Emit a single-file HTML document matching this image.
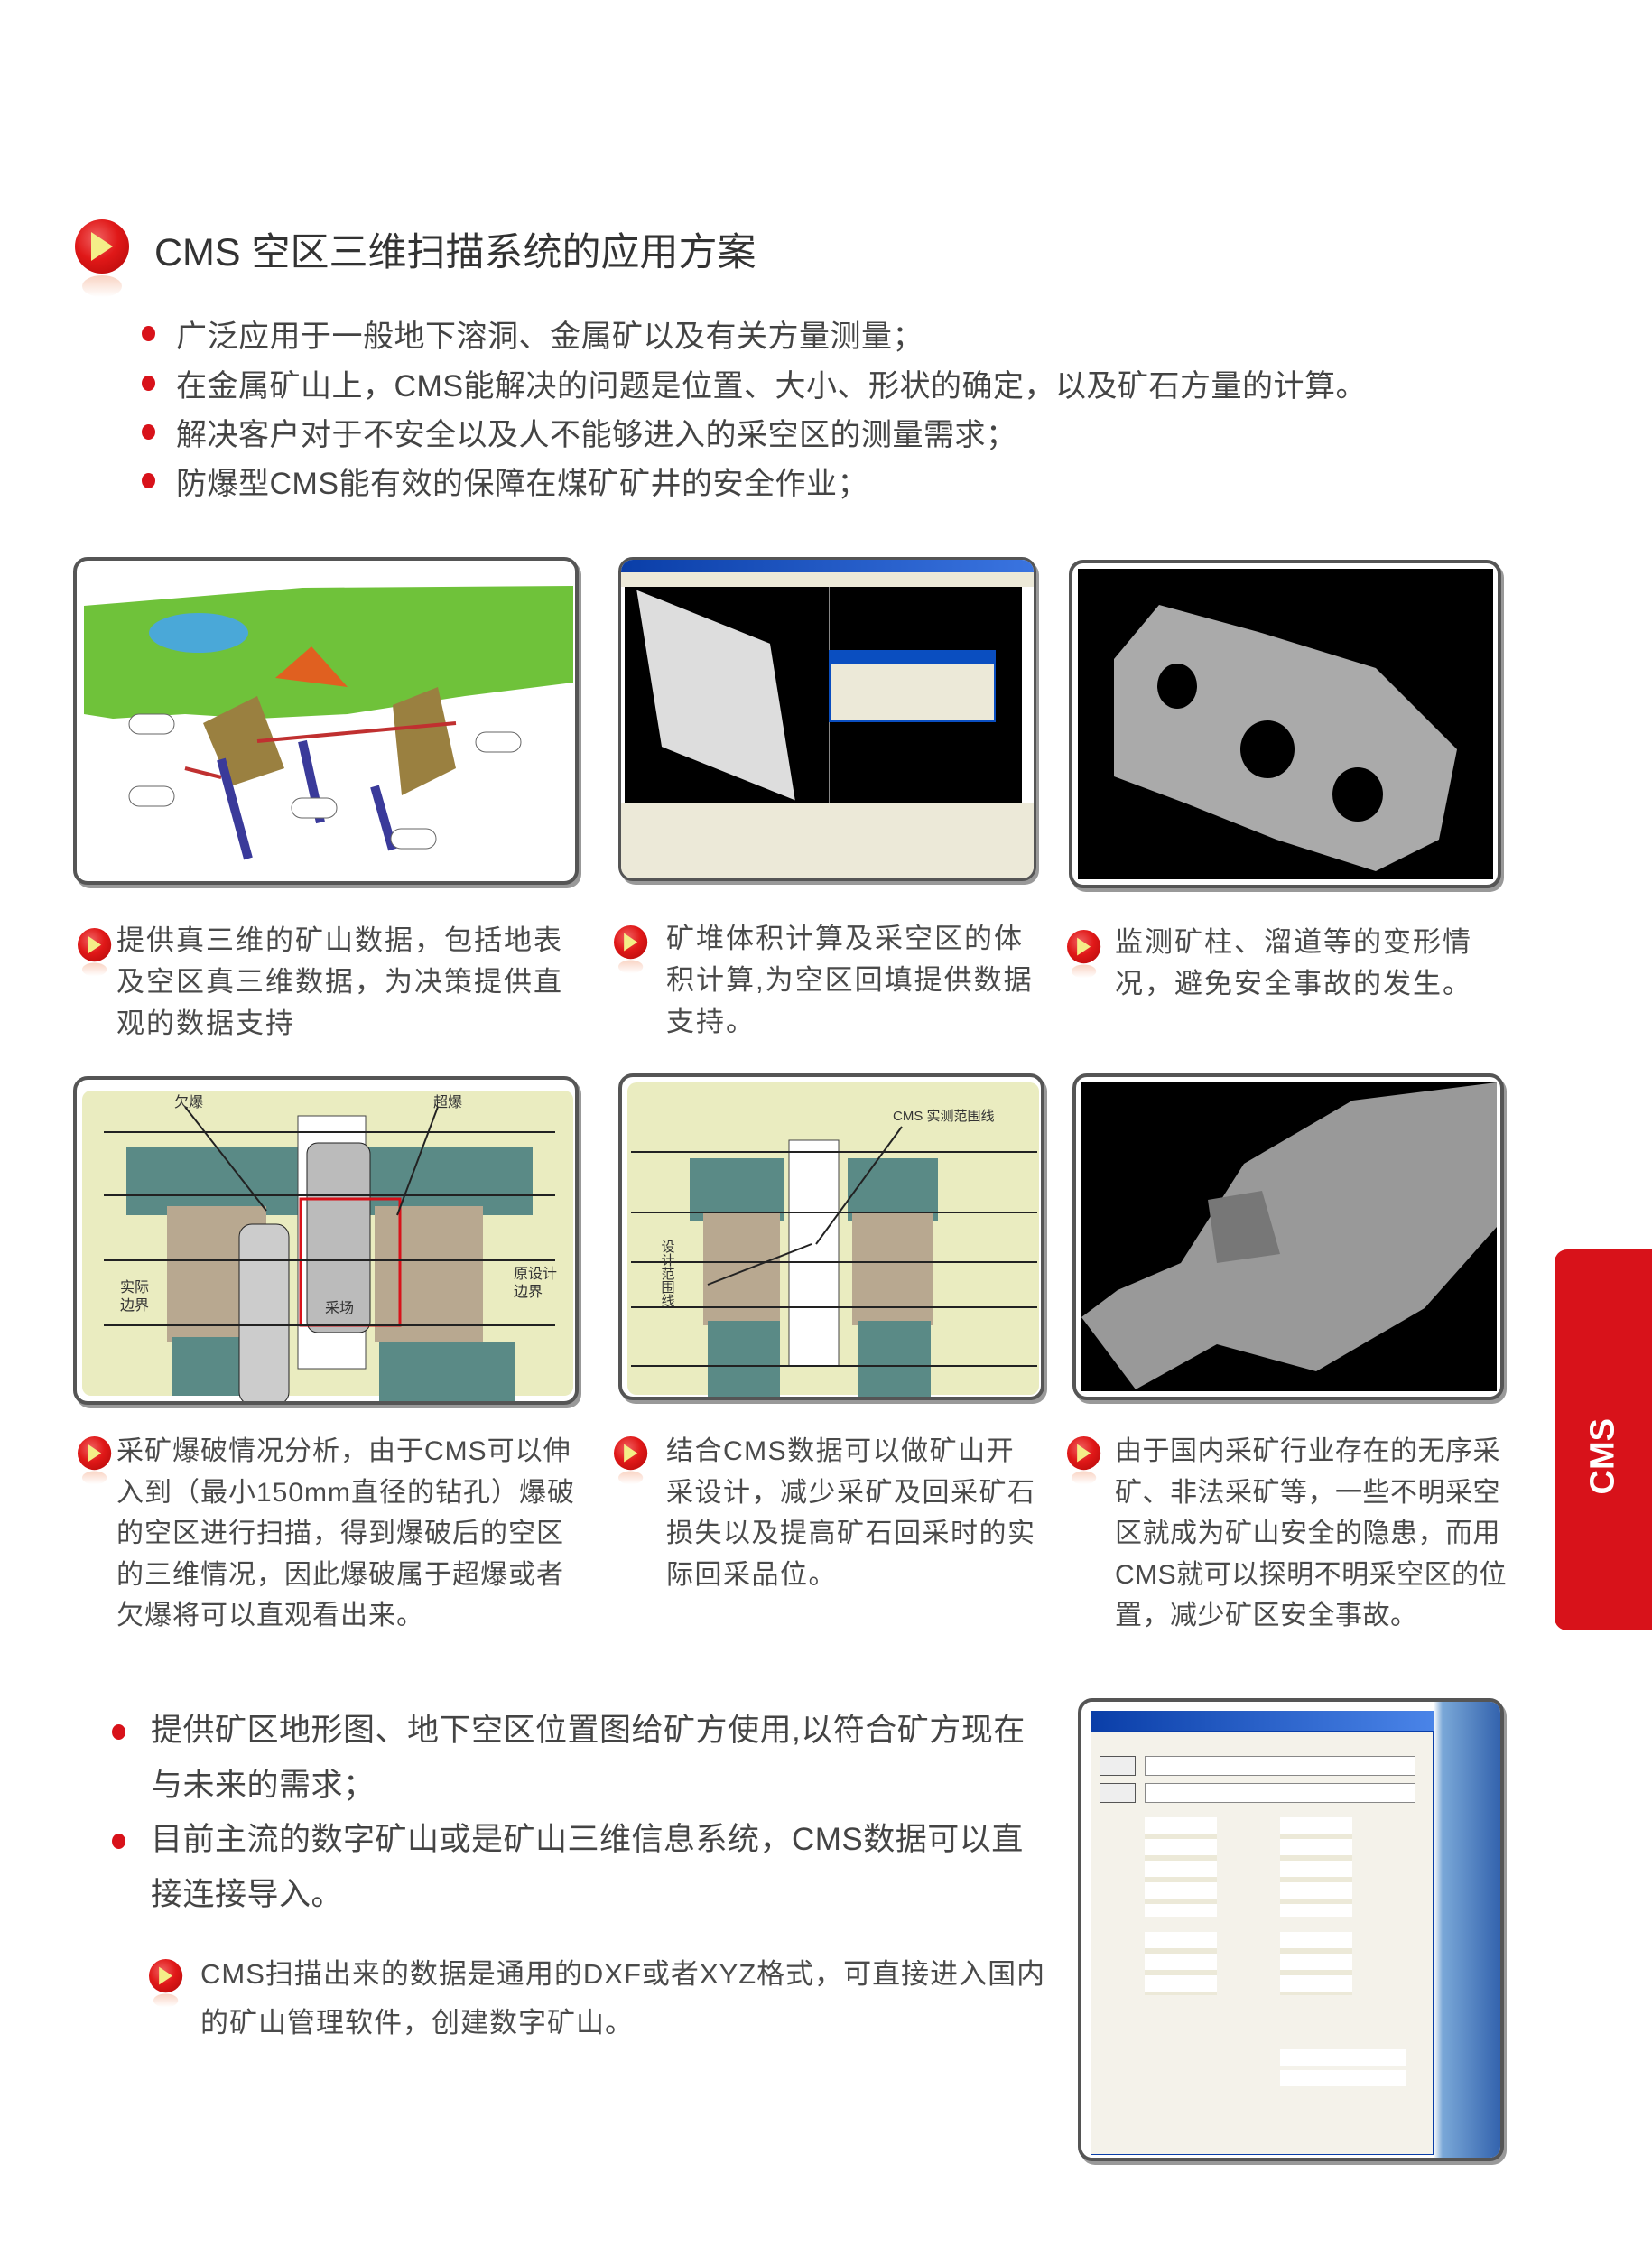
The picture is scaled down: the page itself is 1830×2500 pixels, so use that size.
<!DOCTYPE html>
<html><head><meta charset="utf-8">
<style>
*{margin:0;padding:0;box-sizing:border-box}
body{width:1830px;height:2500px;background:#fff;position:relative;overflow:hidden;font-family:"Liberation Sans","Noto Sans CJK SC",sans-serif;color:#4a4a4a}
.a{position:absolute}
.ico{position:absolute;width:60px;height:60px;border-radius:50%;background:radial-gradient(circle at 40% 35%,#f06060 0%,#e01818 45%,#b00808 100%)}
.ico::before{content:"";position:absolute;left:18px;top:14px;width:0;height:0;border-left:24px solid #f4ee88;border-top:16px solid transparent;border-bottom:16px solid transparent}
.ico::after{content:"";position:absolute;left:8px;top:62px;width:44px;height:24px;border-radius:50%;background:linear-gradient(#f6c0a8,#fff);opacity:.7}
.sico{transform:scale(.62);transform-origin:0 0}
.dot{position:absolute;width:15px;height:17px;border-radius:50%;background:#d8121a}
.t{position:absolute;white-space:nowrap}
.bl{font-size:34px;letter-spacing:.5px;color:#444}
.cap{font-size:31px;letter-spacing:2px;line-height:46px;color:#4a4a4a}
.cap2{font-size:30px;letter-spacing:1px;line-height:45.5px;color:#4a4a4a}
.panel{position:absolute;border:4px solid #555;border-radius:16px;background:#fff;box-shadow:3px 4px 0 #999;overflow:hidden}
</style></head><body>

<div class="ico" style="left:83px;top:243px"></div>
<div class="t" style="left:171px;top:245px;font-size:43px;color:#333">CMS 空区三维扫描系统的应用方案</div>

<div class="dot" style="left:157px;top:361px"></div>
<div class="t bl" style="left:195px;top:345px">广泛应用于一般地下溶洞、金属矿以及有关方量测量；</div>
<div class="dot" style="left:157px;top:416px"></div>
<div class="t bl" style="left:195px;top:400px">在金属矿山上，CMS能解决的问题是位置、大小、形状的确定，以及矿石方量的计算。</div>
<div class="dot" style="left:157px;top:470px"></div>
<div class="t bl" style="left:195px;top:454px">解决客户对于不安全以及人不能够进入的采空区的测量需求；</div>
<div class="dot" style="left:157px;top:524px"></div>
<div class="t bl" style="left:195px;top:508px">防爆型CMS能有效的保障在煤矿矿井的安全作业；</div>

<!-- Row 1 panels -->
<div class="panel" style="left:81px;top:617px;width:560px;height:363px">
<svg width="560" height="363" viewBox="0 0 560 363">
<polygon points="8,50 250,30 550,28 550,135 430,150 300,170 200,175 120,170 40,175 8,170" fill="#6fc23a"/>
<ellipse cx="135" cy="80" rx="55" ry="22" fill="#4aa8d8"/>
<path d="M220,130 L260,95 L300,140 Z" fill="#e06020"/>
<path d="M140,180 L200,150 L230,230 L170,250 Z" fill="#9a8040"/>
<path d="M350,160 L400,140 L420,230 L360,260 Z" fill="#9a8040"/>
<path d="M160,220 L190,330 M330,250 L350,320 M250,200 L270,290" stroke="#3a3a9a" stroke-width="10"/>
<path d="M120,230 L160,240 M200,200 L420,180" stroke="#c03030" stroke-width="4"/>
<g fill="#fff" stroke="#666"><rect x="58" y="170" width="50" height="22" rx="11"/><rect x="58" y="250" width="50" height="22" rx="11"/><rect x="238" y="263" width="50" height="22" rx="11"/><rect x="442" y="190" width="50" height="22" rx="11"/><rect x="348" y="297" width="50" height="22" rx="11"/></g>
</svg></div>

<div class="panel" style="left:685px;top:617px;width:463px;height:359px;border-width:3px">
<div class="a" style="left:0;top:0;width:100%;height:14px;background:linear-gradient(90deg,#0a3ea8,#3a74e0)"></div>
<div class="a" style="left:0;top:14px;width:100%;height:16px;background:#ece9d8"></div>
<div class="a" style="left:4px;top:30px;width:440px;height:240px;background:#000"></div>
<div class="a" style="left:230px;top:30px;width:1px;height:240px;background:#888"></div>
<div class="a" style="left:30px;top:70px;width:150px;height:160px;background:#ddd;transform:skewY(30deg) rotate(-10deg)"></div>
<div class="a" style="left:230px;top:100px;width:185px;height:80px;background:#ece9d8;border:2px solid #0a4ec0"></div>
<div class="a" style="left:230px;top:100px;width:185px;height:16px;background:#0a4ec0"></div>
<div class="a" style="left:0;top:270px;width:100%;height:95px;background:#ece9d8"></div>
</div>

<div class="panel" style="left:1184px;top:620px;width:479px;height:364px">
<div class="a" style="left:6px;top:6px;width:460px;height:344px;background:#000"></div>
<svg class="a" style="left:6px;top:6px" width="460" height="344"><path d="M40,100 L90,40 L200,70 L330,110 L420,200 L400,300 L330,335 L220,300 L120,260 L40,230 Z" fill="#aaa"/><ellipse cx="110" cy="130" rx="22" ry="25" fill="#000"/><ellipse cx="210" cy="200" rx="30" ry="32" fill="#000"/><ellipse cx="310" cy="250" rx="28" ry="30" fill="#000"/></svg>
</div>

<!-- Row 1 captions -->
<div class="ico sico" style="left:86px;top:1028px"></div>
<div class="t cap" style="left:129px;top:1019px">提供真三维的矿山数据，包括地表<br>及空区真三维数据，为决策提供直<br>观的数据支持</div>
<div class="ico sico" style="left:680px;top:1025px"></div>
<div class="t cap" style="left:738px;top:1017px">矿堆体积计算及采空区的体<br>积计算,为空区回填提供数据<br>支持。</div>
<div class="ico sico" style="left:1182px;top:1030px"></div>
<div class="t cap" style="left:1235px;top:1021px">监测矿柱、溜道等的变形情<br>况，避免安全事故的发生。</div>

<!-- Row 2 panels -->
<div class="panel" style="left:81px;top:1192px;width:560px;height:364px">
<div class="a" style="left:6px;top:12px;width:544px;height:338px;background:#eaecc0;border-radius:10px"></div>
<svg class="a" style="left:0;top:0" width="560" height="364">
<rect x="55" y="75" width="220" height="75" fill="#5a8a86"/><rect x="315" y="75" width="190" height="75" fill="#5a8a86"/>
<rect x="100" y="140" width="110" height="150" fill="#b8a890"/><rect x="330" y="140" width="120" height="150" fill="#b8a890"/>
<rect x="105" y="285" width="130" height="65" fill="#5a8a86"/><rect x="335" y="290" width="150" height="70" fill="#5a8a86"/>
<rect x="245" y="40" width="75" height="280" fill="#fff" stroke="#444"/>
<rect x="180" y="160" width="55" height="200" rx="14" fill="#ccc" stroke="#222"/>
<rect x="255" y="70" width="70" height="210" rx="12" fill="#bbb" stroke="#222"/>
<rect x="248" y="132" width="110" height="140" fill="none" stroke="#d8121a" stroke-width="3"/>
<g stroke="#222" stroke-width="2"><line x1="30" y1="58" x2="530" y2="58"/><line x1="30" y1="128" x2="530" y2="128"/><line x1="30" y1="200" x2="530" y2="200"/><line x1="30" y1="272" x2="530" y2="272"/><line x1="120" y1="30" x2="210" y2="145"/><line x1="400" y1="30" x2="355" y2="150"/></g>
<g font-size="16" fill="#333"><text x="108" y="30">欠爆</text><text x="395" y="30">超爆</text><text x="48" y="235">实际</text><text x="48" y="255">边界</text><text x="484" y="220">原设计</text><text x="484" y="240">边界</text><text x="275" y="258">采场</text></g>
</svg></div>

<div class="panel" style="left:685px;top:1189px;width:472px;height:362px">
<div class="a" style="left:6px;top:6px;width:456px;height:346px;background:#eaecc0;border-radius:10px"></div>
<svg class="a" style="left:0;top:0" width="472" height="362">
<rect x="75" y="90" width="105" height="70" fill="#5a8a86"/><rect x="250" y="90" width="100" height="70" fill="#5a8a86"/>
<rect x="90" y="150" width="85" height="125" fill="#b8a890"/><rect x="255" y="150" width="90" height="125" fill="#b8a890"/>
<rect x="95" y="270" width="80" height="85" fill="#5a8a86"/><rect x="262" y="270" width="80" height="85" fill="#5a8a86"/>
<rect x="185" y="70" width="55" height="250" fill="#fff" stroke="#444"/>
<g stroke="#222" stroke-width="2"><line x1="10" y1="83" x2="460" y2="83"/><line x1="10" y1="150" x2="460" y2="150"/><line x1="10" y1="205" x2="460" y2="205"/><line x1="10" y1="255" x2="460" y2="255"/><line x1="10" y1="320" x2="460" y2="320"/><line x1="310" y1="55" x2="215" y2="185"/><line x1="210" y1="185" x2="95" y2="230"/></g>
<g font-size="15" fill="#333"><text x="300" y="48">CMS 实测范围线</text><text x="50" y="180" writing-mode="tb">设计范围线</text></g>
</svg></div>

<div class="panel" style="left:1188px;top:1189px;width:478px;height:362px">
<div class="a" style="left:6px;top:6px;width:460px;height:342px;background:#000"></div>
<svg class="a" style="left:6px;top:6px" width="460" height="342"><path d="M460,0 L300,20 L180,90 L110,200 L40,230 L0,260 L60,340 L150,290 L260,320 L380,250 L460,160 Z" fill="#999"/><path d="M140,130 L200,120 L220,190 L150,200 Z" fill="#777"/></svg>
</div>

<!-- Row 2 captions -->
<div class="ico sico" style="left:86px;top:1591px"></div>
<div class="t cap2" style="left:129px;top:1585px">采矿爆破情况分析，由于CMS可以伸<br>入到（最小150mm直径的钻孔）爆破<br>的空区进行扫描，得到爆破后的空区<br>的三维情况，因此爆破属于超爆或者<br>欠爆将可以直观看出来。</div>
<div class="ico sico" style="left:680px;top:1591px"></div>
<div class="t cap2" style="left:738px;top:1585px;letter-spacing:1.5px">结合CMS数据可以做矿山开<br>采设计，减少采矿及回采矿石<br>损失以及提高矿石回采时的实<br>际回采品位。</div>
<div class="ico sico" style="left:1182px;top:1591px"></div>
<div class="t cap2" style="left:1235px;top:1585px;letter-spacing:.5px">由于国内采矿行业存在的无序采<br>矿、非法采矿等，一些不明采空<br>区就成为矿山安全的隐患，而用<br>CMS就可以探明不明采空区的位<br>置，减少矿区安全事故。</div>

<!-- red tab -->
<div class="a" style="left:1722px;top:1384px;width:108px;height:422px;background:#d8121a;border-radius:14px 0 0 14px"></div>
<div class="t" style="left:1736px;top:1594px;width:80px;transform:rotate(-90deg);transform-origin:center;color:#fff;font-weight:bold;font-size:38px;text-align:center">CMS</div>

<!-- bottom bullets -->
<div class="dot" style="left:124px;top:1910px"></div>
<div class="t bl" style="left:167px;top:1886px;font-size:35px;line-height:61px">提供矿区地形图、地下空区位置图给矿方使用,以符合矿方现在<br>与未来的需求；</div>
<div class="dot" style="left:124px;top:2031px"></div>
<div class="t bl" style="left:167px;top:2007px;font-size:35px;line-height:61px">目前主流的数字矿山或是矿山三维信息系统，CMS数据可以直<br>接连接导入。</div>
<div class="ico sico" style="left:165px;top:2170px"></div>
<div class="t cap" style="left:222px;top:2160px;line-height:54px;letter-spacing:1px">CMS扫描出来的数据是通用的DXF或者XYZ格式，可直接进入国内<br>的矿山管理软件，创建数字矿山。</div>

<!-- software screenshot -->
<div class="panel" style="left:1194px;top:1881px;width:472px;height:513px">
<div class="a" style="left:0;top:0;width:472px;height:513px;background:linear-gradient(90deg,#fff 0,#fff 390px,#7aa8d8 400px,#2a5aa8 472px)"></div>
<div class="a" style="left:10px;top:10px;width:380px;height:22px;background:linear-gradient(90deg,#0a3ea8,#4a84e8)"></div>
<div class="a" style="left:10px;top:32px;width:380px;height:470px;background:#f4f2ea;border:1px solid #0a3ea8"></div>
<div class="a" style="left:20px;top:60px;width:40px;height:22px;border:1px solid #555;background:#eee"></div>
<div class="a" style="left:70px;top:60px;width:300px;height:22px;background:#fff;border:1px solid #888"></div>
<div class="a" style="left:20px;top:90px;width:40px;height:22px;border:1px solid #555;background:#eee"></div>
<div class="a" style="left:70px;top:90px;width:300px;height:22px;background:#fff;border:1px solid #888"></div>
<div class="a" style="left:70px;top:128px;width:80px;height:110px;background:repeating-linear-gradient(#fff 0 18px,#ece9d8 18px 24px)"></div>
<div class="a" style="left:220px;top:128px;width:80px;height:110px;background:repeating-linear-gradient(#fff 0 18px,#ece9d8 18px 24px)"></div>
<div class="a" style="left:70px;top:255px;width:80px;height:70px;background:repeating-linear-gradient(#fff 0 18px,#ece9d8 18px 24px)"></div>
<div class="a" style="left:220px;top:255px;width:80px;height:70px;background:repeating-linear-gradient(#fff 0 18px,#ece9d8 18px 24px)"></div>
<div class="a" style="left:220px;top:385px;width:140px;height:18px;background:#fff"></div>
<div class="a" style="left:220px;top:408px;width:140px;height:18px;background:#fff"></div>
</div>

</body></html>
